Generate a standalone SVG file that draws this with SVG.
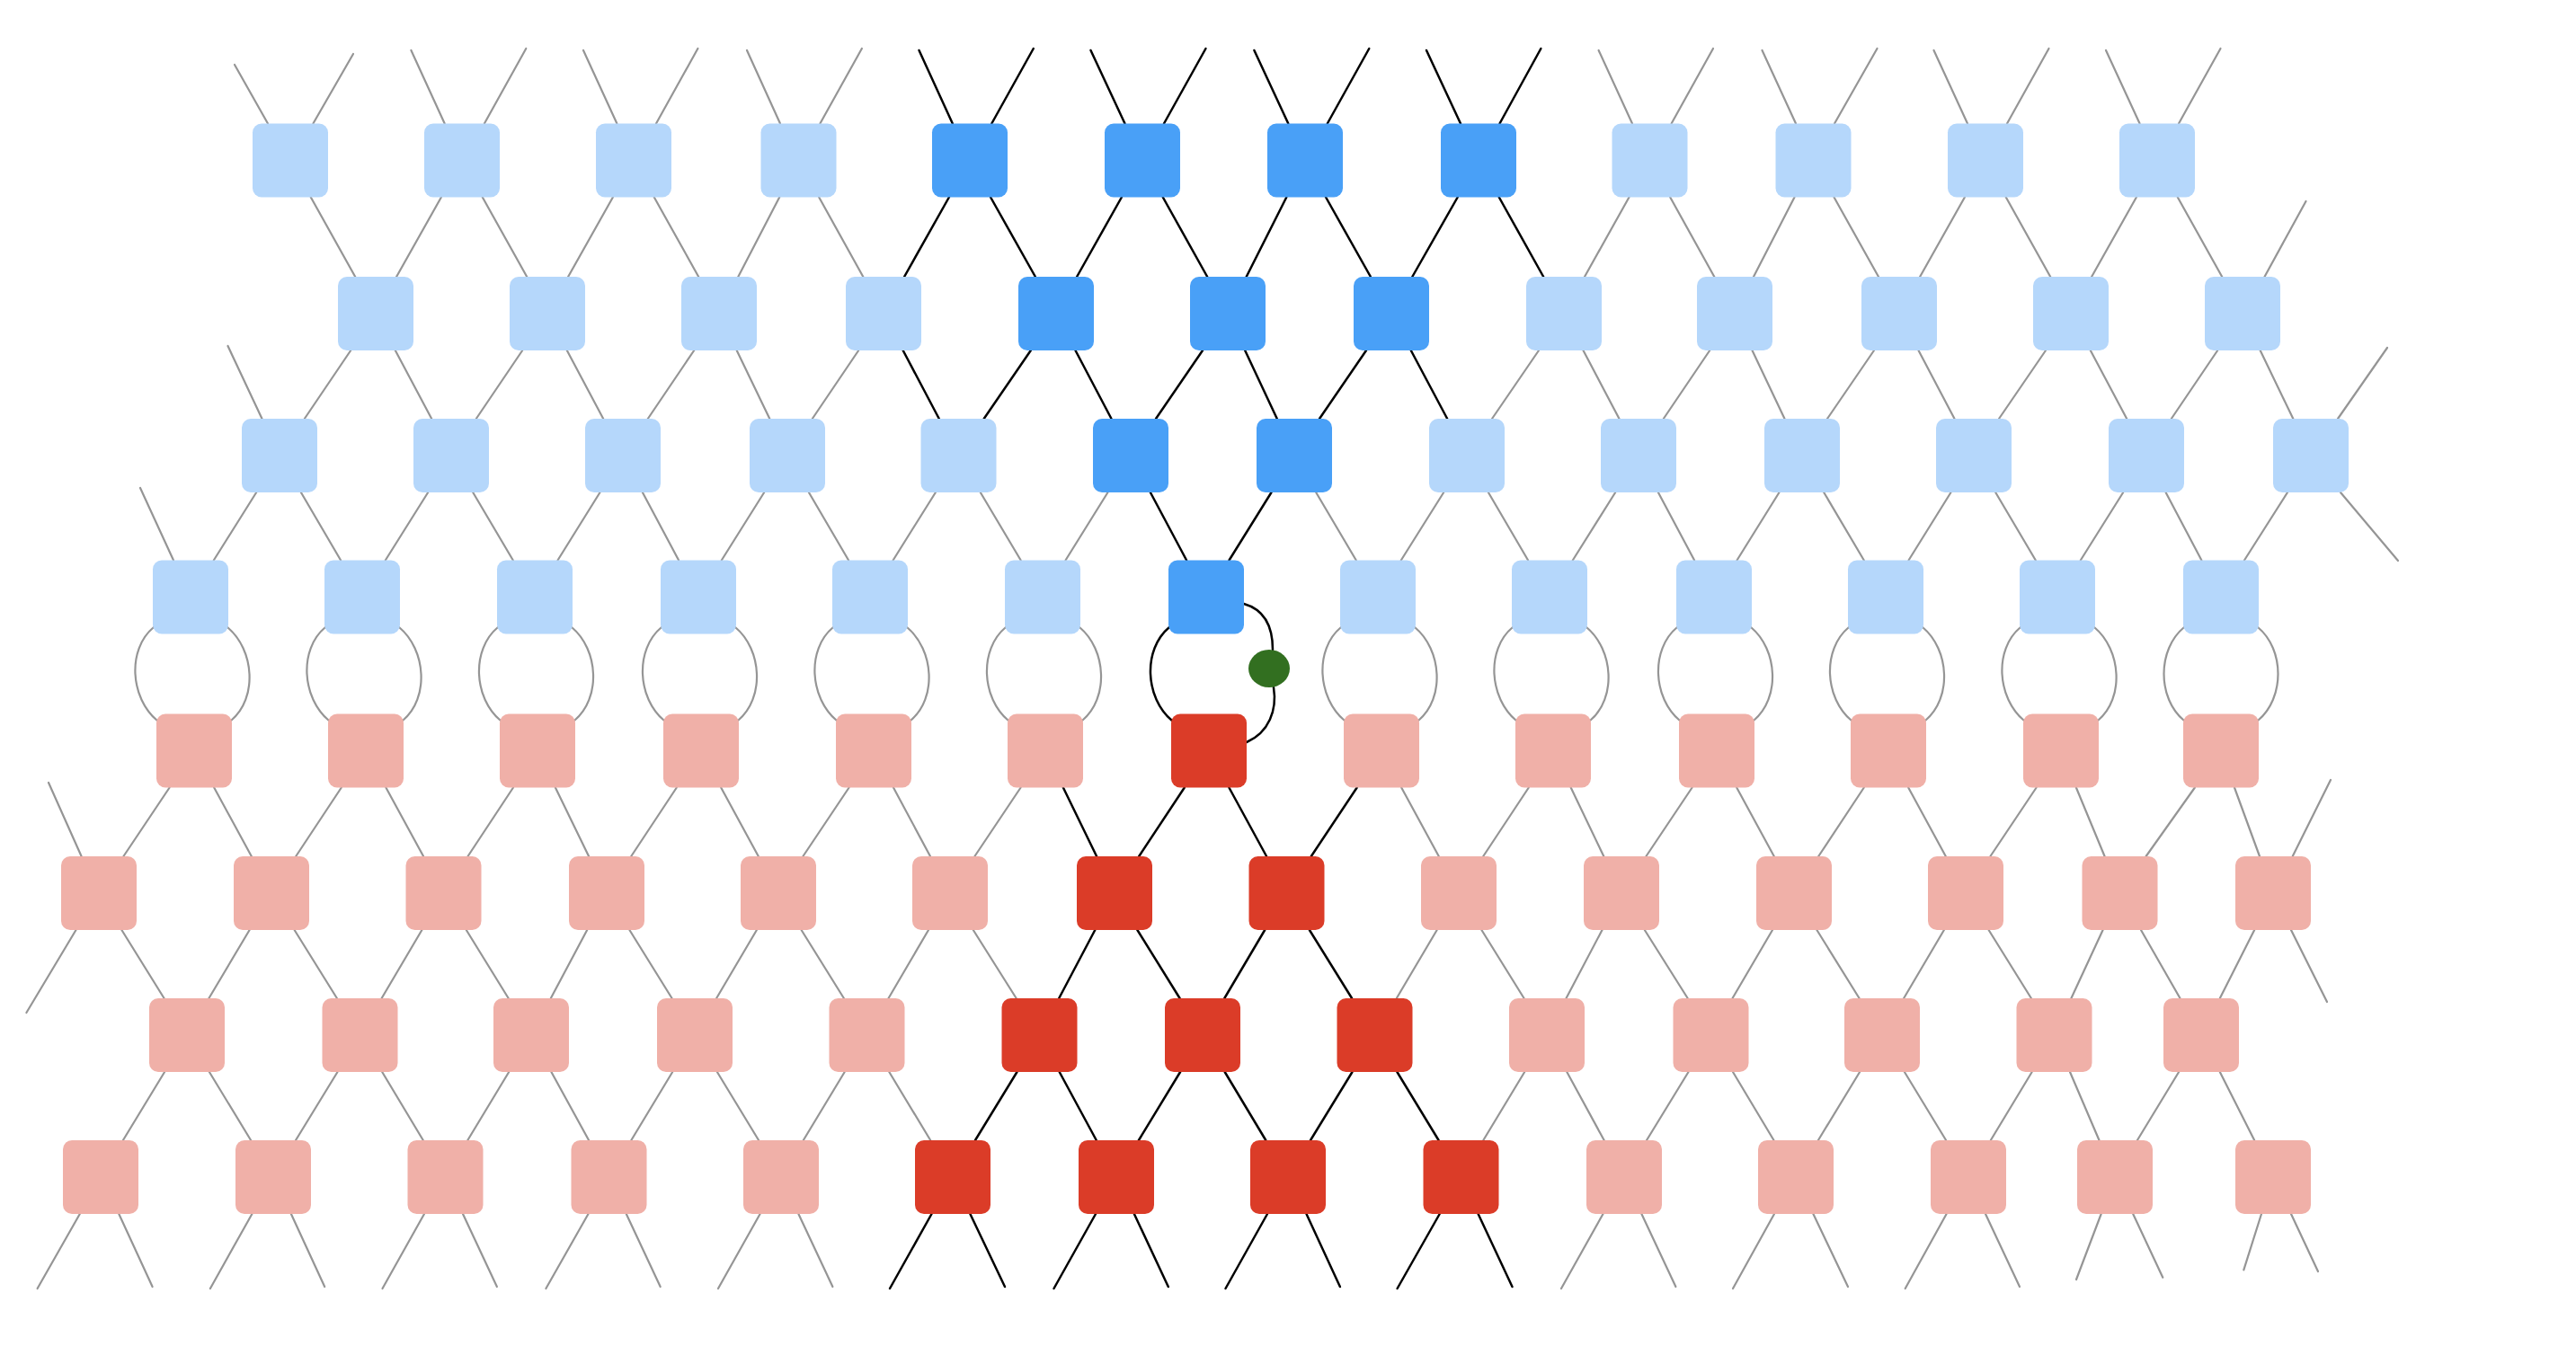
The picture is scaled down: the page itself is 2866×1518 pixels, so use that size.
<svg xmlns="http://www.w3.org/2000/svg" width="2866" height="1518" viewBox="0 0 2866 1518">
<style>
.lb{fill:#b5d7fb}.db{fill:#49a0f7}.lr{fill:#f0b0a8}.dr{fill:#db3c28}.gn{fill:#326f20}
.g{stroke:#959595;stroke-width:2.2;fill:none}.k{stroke:#000;stroke-width:2.5;fill:none}
</style>
<rect width="2866" height="1518" fill="#fff"/>
<g id="connectors" stroke-linecap="round">
<!-- row1 top dangling -->
<g class="g">
<line x1="298" y1="137.5" x2="261" y2="72"/><line x1="348.4" y1="137.5" x2="393" y2="60"/>
<line x1="494.7" y1="137.5" x2="457.4" y2="56"/><line x1="538.9" y1="137.5" x2="585.3" y2="54"/>
<line x1="686.4" y1="137.5" x2="649" y2="56"/><line x1="730" y1="137.5" x2="776.4" y2="54"/>
<line x1="868" y1="137.5" x2="831" y2="56"/><line x1="912.4" y1="137.5" x2="958.9" y2="54"/>
<line x1="1816" y1="137.5" x2="1778.6" y2="56"/><line x1="1859.6" y1="137.5" x2="1906" y2="54"/>
<line x1="1998" y1="137.5" x2="1960.5" y2="56"/><line x1="2041" y1="137.5" x2="2088.5" y2="54"/>
<line x1="2189" y1="137.5" x2="2151.5" y2="56"/><line x1="2233" y1="137.5" x2="2279.5" y2="54"/>
<line x1="2380.6" y1="137.5" x2="2343" y2="56"/><line x1="2424" y1="137.5" x2="2470.5" y2="54"/>
</g>
<g class="k">
<line x1="1059.8" y1="137.5" x2="1022.5" y2="56"/><line x1="1103.3" y1="137.5" x2="1149.8" y2="54"/>
<line x1="1251.5" y1="137.5" x2="1213.5" y2="56"/><line x1="1295" y1="137.5" x2="1341.5" y2="54"/>
<line x1="1433.3" y1="137.5" x2="1395.4" y2="56"/><line x1="1476.8" y1="137.5" x2="1523.3" y2="54"/>
<line x1="1625" y1="137.5" x2="1587" y2="56"/><line x1="1668.5" y1="137.5" x2="1714.4" y2="54"/>
</g>
<!-- row1 to row2 -->
<g class="g">
<line x1="345.8" y1="219.5" x2="395.2" y2="308"/><line x1="536.8" y1="219.5" x2="586.2" y2="308"/>
<line x1="727.8" y1="219.5" x2="777.2" y2="308"/><line x1="911.2" y1="219.5" x2="960.3" y2="308"/>
<line x1="1858.2" y1="219.5" x2="1907.3" y2="308"/><line x1="2040.5" y1="219.5" x2="2090" y2="308"/>
<line x1="2231.8" y1="219.5" x2="2281.2" y2="308"/><line x1="2422.8" y1="219.5" x2="2472.2" y2="308"/>
<line x1="490.9" y1="219.5" x2="441.1" y2="308"/><line x1="681.9" y1="219.5" x2="632.1" y2="308"/>
<line x1="867.2" y1="219.5" x2="821.3" y2="308"/><line x1="1812.5" y1="219.5" x2="1763" y2="308"/>
<line x1="1996.5" y1="219.5" x2="1951" y2="308"/><line x1="2185.9" y1="219.5" x2="2136.1" y2="308"/>
<line x1="2376.9" y1="219.5" x2="2327.1" y2="308"/>
<line x1="2519.5" y1="308" x2="2565.5" y2="224"/>
</g>
<g class="k">
<line x1="1102.1" y1="219.5" x2="1151.9" y2="308"/><line x1="1293.8" y1="219.5" x2="1343.2" y2="308"/>
<line x1="1475.1" y1="219.5" x2="1524.9" y2="308"/><line x1="1667.8" y1="219.5" x2="1717.2" y2="308"/>
<line x1="1055.9" y1="219.5" x2="1006.1" y2="308"/><line x1="1247.9" y1="219.5" x2="1198.1" y2="308"/>
<line x1="1431.3" y1="219.5" x2="1386.7" y2="308"/><line x1="1621.7" y1="219.5" x2="1571.3" y2="308"/>
</g>
<!-- row2 to row3 -->
<g class="g">
<line x1="390.2" y1="390" x2="338.8" y2="466"/><line x1="581.2" y1="390" x2="529.8" y2="466"/>
<line x1="772.2" y1="390" x2="720.8" y2="466"/><line x1="955.2" y1="390" x2="903.8" y2="466"/>
<line x1="1712" y1="390" x2="1660" y2="466"/><line x1="1902.2" y1="390" x2="1850.8" y2="466"/>
<line x1="2085" y1="390" x2="2033" y2="466"/><line x1="2276" y1="390" x2="2224" y2="466"/>
<line x1="2467.2" y1="390" x2="2415.8" y2="466"/>
<line x1="439.8" y1="390" x2="480.2" y2="466"/><line x1="630.8" y1="390" x2="671.2" y2="466"/>
<line x1="819.7" y1="390" x2="856.3" y2="466"/><line x1="1761.5" y1="390" x2="1801.5" y2="466"/>
<line x1="1949.5" y1="390" x2="1985.5" y2="466"/><line x1="2134.5" y1="390" x2="2174.5" y2="466"/>
<line x1="2325.8" y1="390" x2="2366.2" y2="466"/><line x1="2514.7" y1="390" x2="2551.3" y2="466"/>
<line x1="291.5" y1="466" x2="253.5" y2="385"/><line x1="2601" y1="466" x2="2656" y2="387"/>
</g>
<g class="k">
<line x1="1146.8" y1="390" x2="1094.7" y2="466"/><line x1="1338" y1="390" x2="1286" y2="466"/>
<line x1="1520" y1="390" x2="1468" y2="466"/>
<line x1="1004.7" y1="390" x2="1044.8" y2="466"/><line x1="1196.5" y1="390" x2="1236.5" y2="466"/>
<line x1="1385.2" y1="390" x2="1420.8" y2="466"/><line x1="1569.8" y1="390" x2="1610.2" y2="466"/>
</g>
<!-- row3 to row4 -->
<g class="g">
<line x1="285.2" y1="548" x2="237.8" y2="623.5"/><line x1="476.2" y1="548" x2="428.8" y2="623.5"/>
<line x1="667.5" y1="548" x2="620.5" y2="623.5"/><line x1="850.2" y1="548" x2="802.8" y2="623.5"/>
<line x1="1040.9" y1="548" x2="993.6" y2="623.5"/><line x1="1232.5" y1="548" x2="1185.5" y2="623.5"/>
<line x1="1606.2" y1="548" x2="1558.8" y2="623.5"/><line x1="1797.2" y1="548" x2="1749.8" y2="623.5"/>
<line x1="1979.5" y1="548" x2="1932.5" y2="623.5"/><line x1="2170.5" y1="548" x2="2123.5" y2="623.5"/>
<line x1="2362.2" y1="548" x2="2314.8" y2="623.5"/><line x1="2545" y1="548" x2="2497" y2="623.5"/>
<line x1="334.9" y1="548" x2="379.1" y2="623.5"/><line x1="526.2" y1="548" x2="570.8" y2="623.5"/>
<line x1="714.9" y1="548" x2="755.1" y2="623.5"/><line x1="899.9" y1="548" x2="944.1" y2="623.5"/>
<line x1="1090.8" y1="548" x2="1135.7" y2="623.5"/><line x1="1464.2" y1="548" x2="1508.8" y2="623.5"/>
<line x1="1655.9" y1="548" x2="1700.1" y2="623.5"/><line x1="1844.9" y1="548" x2="1885.1" y2="623.5"/>
<line x1="2029.2" y1="548" x2="2073.8" y2="623.5"/><line x1="2220.2" y1="548" x2="2264.8" y2="623.5"/>
<line x1="2409.6" y1="548" x2="2449.4" y2="623.5"/>
<line x1="2604" y1="548" x2="2668" y2="624"/><line x1="193" y1="623.5" x2="156" y2="543"/>
</g>
<g class="k">
<line x1="1414.5" y1="548" x2="1367.5" y2="623.5"/><line x1="1279.9" y1="548" x2="1320.1" y2="623.5"/>
</g>
<!-- row4 to row5 lenses -->
<g class="g">
<path d="M171,698 C141,723 145,777 175,802"/><path d="M253,698 C283,723 287,777 257,802"/>
<path d="M362,698 C332,723 336,777 366,802"/><path d="M444,698 C474,723 478,777 448,802"/>
<path d="M554,698 C524,723 527,777 557,802"/><path d="M636,698 C666,723 669,777 639,802"/>
<path d="M736,698 C706,723 709,777 739,802"/><path d="M818,698 C848,723 851,777 821,802"/>
<path d="M927,698 C897,723 901,777 931,802"/><path d="M1009,698 C1039,723 1043,777 1013,802"/>
<path d="M1119,698 C1089,723 1092,777 1122,802"/><path d="M1201,698 C1231,723 1234,777 1204,802"/>
<path d="M1492,698 C1462,723 1466,777 1496,802"/><path d="M1574,698 C1604,723 1608,777 1578,802"/>
<path d="M1683,698 C1653,723 1657,777 1687,802"/><path d="M1765,698 C1795,723 1799,777 1769,802"/>
<path d="M1866,698 C1836,723 1839,777 1869,802"/><path d="M1948,698 C1978,723 1981,777 1951,802"/>
<path d="M2057,698 C2027,723 2030,777 2060,802"/><path d="M2139,698 C2169,723 2172,777 2142,802"/>
<path d="M2248,698 C2218,723 2222,777 2252,802"/><path d="M2330,698 C2360,723 2364,777 2334,802"/>
<path d="M2430,698 C2400,723 2400,777 2430,802"/><path d="M2512,698 C2542,723 2542,777 2512,802"/>
</g>
<g class="k">
<path d="M1301,698 C1271,723 1274,777 1304,802"/>
<path d="M1384,672 C1405,678 1416,695 1416,723"/>
<path d="M1417,765 C1421,790 1412,815 1387,826"/>
</g>
<!-- row5 to row6 -->
<g class="g">
<line x1="188.6" y1="876.5" x2="137.4" y2="953"/><line x1="379.8" y1="876.5" x2="329.2" y2="953"/>
<line x1="571" y1="876.5" x2="520.5" y2="953"/><line x1="752.8" y1="876.5" x2="702.2" y2="953"/>
<line x1="944.6" y1="876.5" x2="893.4" y2="953"/><line x1="1135.6" y1="876.5" x2="1084.4" y2="953"/>
<line x1="1700.8" y1="876.5" x2="1650.2" y2="953"/><line x1="1882.6" y1="876.5" x2="1831.4" y2="953"/>
<line x1="2073.8" y1="876.5" x2="2023.2" y2="953"/><line x1="2265.6" y1="876.5" x2="2214.4" y2="953"/>
<line x1="2441.9" y1="876.5" x2="2387.6" y2="953"/>
<line x1="238.2" y1="876.5" x2="279.8" y2="953"/><line x1="429.4" y1="876.5" x2="471.1" y2="953"/>
<line x1="617.9" y1="876.5" x2="655.1" y2="953"/><line x1="802.2" y1="876.5" x2="843.8" y2="953"/>
<line x1="994" y1="876.5" x2="1035" y2="953"/><line x1="1559.2" y1="876.5" x2="1600.8" y2="953"/>
<line x1="1747.7" y1="876.5" x2="1784.3" y2="953"/><line x1="1932.2" y1="876.5" x2="1973.8" y2="953"/>
<line x1="2123.2" y1="876.5" x2="2164.8" y2="953"/><line x1="2309.9" y1="876.5" x2="2341.6" y2="953"/>
<line x1="2486" y1="876.5" x2="2514" y2="953"/>
<line x1="90.6" y1="953" x2="54" y2="871"/><line x1="2550.7" y1="953" x2="2593" y2="868"/>
</g>
<g class="k">
<line x1="1317.8" y1="876.5" x2="1267.2" y2="953"/><line x1="1509.7" y1="876.5" x2="1458.8" y2="953"/>
<line x1="1182.9" y1="876.5" x2="1220.1" y2="953"/><line x1="1367.4" y1="876.5" x2="1409.1" y2="953"/>
</g>
<!-- row6 to row7 -->
<g class="g">
<line x1="277.6" y1="1035" x2="232.4" y2="1111"/><line x1="469.4" y1="1035" x2="424.6" y2="1111"/>
<line x1="653.2" y1="1035" x2="612.8" y2="1111"/><line x1="841.9" y1="1035" x2="797.1" y2="1111"/>
<line x1="1033" y1="1035" x2="988.5" y2="1111"/><line x1="1598.7" y1="1035" x2="1553.8" y2="1111"/>
<line x1="1782.5" y1="1035" x2="1742.5" y2="1111"/><line x1="1972" y1="1035" x2="1927.5" y2="1111"/>
<line x1="2162.9" y1="1035" x2="2118.1" y2="1111"/><line x1="2339.6" y1="1035" x2="2304.4" y2="1111"/>
<line x1="2508.2" y1="1035" x2="2469.8" y2="1111"/>
<line x1="135.4" y1="1035" x2="182.6" y2="1111"/><line x1="327.6" y1="1035" x2="374.9" y2="1111"/>
<line x1="518.8" y1="1035" x2="565.7" y2="1111"/><line x1="700.4" y1="1035" x2="747.6" y2="1111"/>
<line x1="891.6" y1="1035" x2="938.9" y2="1111"/><line x1="1082.8" y1="1035" x2="1130.7" y2="1111"/>
<line x1="1648.4" y1="1035" x2="1695.6" y2="1111"/><line x1="1829.8" y1="1035" x2="1877.7" y2="1111"/>
<line x1="2021.4" y1="1035" x2="2068.6" y2="1111"/><line x1="2212.6" y1="1035" x2="2259.9" y2="1111"/>
<line x1="2382" y1="1035" x2="2425.5" y2="1111"/>
<line x1="84.5" y1="1035" x2="29.4" y2="1127"/><line x1="2549" y1="1035" x2="2589" y2="1115"/>
</g>
<g class="k">
<line x1="1218.3" y1="1035" x2="1178.2" y2="1111"/><line x1="1407.2" y1="1035" x2="1362.3" y2="1111"/>
<line x1="1265.4" y1="1035" x2="1312.6" y2="1111"/><line x1="1456.9" y1="1035" x2="1504.1" y2="1111"/>
</g>
<!-- row7 to row8 -->
<g class="g">
<line x1="183.1" y1="1193" x2="136.9" y2="1269"/><line x1="375.5" y1="1193" x2="329" y2="1269"/>
<line x1="566.2" y1="1193" x2="520.3" y2="1269"/><line x1="748.2" y1="1193" x2="702.3" y2="1269"/>
<line x1="939.7" y1="1193" x2="893.8" y2="1269"/><line x1="1696.2" y1="1193" x2="1650.3" y2="1269"/>
<line x1="1878.5" y1="1193" x2="1832" y2="1269"/><line x1="2069.1" y1="1193" x2="2022.9" y2="1269"/>
<line x1="2260.7" y1="1193" x2="2214.8" y2="1269"/><line x1="2424.1" y1="1193" x2="2377.9" y2="1269"/>
<line x1="232.9" y1="1193" x2="279.1" y2="1269"/><line x1="425.2" y1="1193" x2="470.8" y2="1269"/>
<line x1="613.4" y1="1193" x2="655.1" y2="1269"/><line x1="797.9" y1="1193" x2="844.1" y2="1269"/>
<line x1="989.3" y1="1193" x2="1035.2" y2="1269"/><line x1="1743.3" y1="1193" x2="1784.7" y2="1269"/>
<line x1="1928" y1="1193" x2="1973.5" y2="1269"/><line x1="2118.9" y1="1193" x2="2165.1" y2="1269"/>
<line x1="2303" y1="1193" x2="2335.5" y2="1269"/><line x1="2469.8" y1="1193" x2="2508.2" y2="1269"/>
</g>
<g class="k">
<line x1="1131.5" y1="1193" x2="1085" y2="1269"/><line x1="1313.1" y1="1193" x2="1266.9" y2="1269"/>
<line x1="1504.5" y1="1193" x2="1458" y2="1269"/>
<line x1="1178.7" y1="1193" x2="1219.8" y2="1269"/><line x1="1362.7" y1="1193" x2="1408.3" y2="1269"/>
<line x1="1554.4" y1="1193" x2="1600.6" y2="1269"/>
</g>
<!-- row8 bottom dangling -->
<g class="g">
<line x1="88.8" y1="1351" x2="41.6" y2="1434"/><line x1="132.3" y1="1351" x2="169.6" y2="1432"/>
<line x1="280.4" y1="1351" x2="233.9" y2="1434"/><line x1="323.9" y1="1351" x2="361.2" y2="1432"/>
<line x1="472" y1="1351" x2="425.5" y2="1434"/><line x1="515" y1="1351" x2="552.9" y2="1432"/>
<line x1="654.5" y1="1351" x2="607.4" y2="1434"/><line x1="696.8" y1="1351" x2="734.7" y2="1432"/>
<line x1="845.6" y1="1351" x2="799" y2="1434"/><line x1="888.4" y1="1351" x2="926.4" y2="1432"/>
<line x1="1783.5" y1="1351" x2="1737" y2="1434"/><line x1="1826.4" y1="1351" x2="1864.4" y2="1432"/>
<line x1="1974" y1="1351" x2="1928" y2="1434"/><line x1="2017.4" y1="1351" x2="2056" y2="1432"/>
<line x1="2165.6" y1="1351" x2="2119.7" y2="1434"/><line x1="2209" y1="1351" x2="2247" y2="1432"/>
<line x1="2337.7" y1="1351" x2="2310" y2="1424"/><line x1="2373.2" y1="1351" x2="2406.3" y2="1421.7"/>
<line x1="2516" y1="1351" x2="2496.3" y2="1413.3"/><line x1="2549" y1="1351" x2="2579" y2="1415"/>
</g>
<g class="k">
<line x1="1036.5" y1="1351" x2="990" y2="1434"/><line x1="1079.4" y1="1351" x2="1118" y2="1432"/>
<line x1="1219" y1="1351" x2="1172.5" y2="1434"/><line x1="1261.9" y1="1351" x2="1299.8" y2="1432"/>
<line x1="1410" y1="1351" x2="1363.5" y2="1434"/><line x1="1453.5" y1="1351" x2="1490.9" y2="1432"/>
<line x1="1601.7" y1="1351" x2="1554.6" y2="1434"/><line x1="1644.6" y1="1351" x2="1682.5" y2="1432"/>
</g>
</g>
<!-- nodes -->
<g id="nodes">
<g id="r1n1"><rect class="lb" x="281" y="137.5" width="84" height="82" rx="10"/></g>
<g id="r1n2"><rect class="lb" x="472" y="137.5" width="84" height="82" rx="10"/></g>
<g id="r1n3"><rect class="lb" x="663" y="137.5" width="84" height="82" rx="10"/></g>
<g id="r1n4"><rect class="lb" x="846.5" y="137.5" width="84" height="82" rx="10"/></g>
<g id="r1n5"><rect class="db" x="1037" y="137.5" width="84" height="82" rx="10"/></g>
<g id="r1n6"><rect class="db" x="1229" y="137.5" width="84" height="82" rx="10"/></g>
<g id="r1n7"><rect class="db" x="1410" y="137.5" width="84" height="82" rx="10"/></g>
<g id="r1n8"><rect class="db" x="1603" y="137.5" width="84" height="82" rx="10"/></g>
<g id="r1n9"><rect class="lb" x="1793.5" y="137.5" width="84" height="82" rx="10"/></g>
<g id="r1n10"><rect class="lb" x="1975.5" y="137.5" width="84" height="82" rx="10"/></g>
<g id="r1n11"><rect class="lb" x="2167" y="137.5" width="84" height="82" rx="10"/></g>
<g id="r1n12"><rect class="lb" x="2358" y="137.5" width="84" height="82" rx="10"/></g>

<g id="r2n1"><rect class="lb" x="376" y="308" width="84" height="82" rx="10"/></g>
<g id="r2n2"><rect class="lb" x="567" y="308" width="84" height="82" rx="10"/></g>
<g id="r2n3"><rect class="lb" x="758" y="308" width="84" height="82" rx="10"/></g>
<g id="r2n4"><rect class="lb" x="941" y="308" width="84" height="82" rx="10"/></g>
<g id="r2n5"><rect class="db" x="1133" y="308" width="84" height="82" rx="10"/></g>
<g id="r2n6"><rect class="db" x="1324" y="308" width="84" height="82" rx="10"/></g>
<g id="r2n7"><rect class="db" x="1506" y="308" width="84" height="82" rx="10"/></g>
<g id="r2n8"><rect class="lb" x="1698" y="308" width="84" height="82" rx="10"/></g>
<g id="r2n9"><rect class="lb" x="1888" y="308" width="84" height="82" rx="10"/></g>
<g id="r2n10"><rect class="lb" x="2071" y="308" width="84" height="82" rx="10"/></g>
<g id="r2n11"><rect class="lb" x="2262" y="308" width="84" height="82" rx="10"/></g>
<g id="r2n12"><rect class="lb" x="2453" y="308" width="84" height="82" rx="10"/></g>

<g id="r3n1"><rect class="lb" x="269" y="466" width="84" height="82" rx="10"/></g>
<g id="r3n2"><rect class="lb" x="460" y="466" width="84" height="82" rx="10"/></g>
<g id="r3n3"><rect class="lb" x="651" y="466" width="84" height="82" rx="10"/></g>
<g id="r3n4"><rect class="lb" x="834" y="466" width="84" height="82" rx="10"/></g>
<g id="r3n5"><rect class="lb" x="1024.5" y="466" width="84" height="82" rx="10"/></g>
<g id="r3n6"><rect class="db" x="1216" y="466" width="84" height="82" rx="10"/></g>
<g id="r3n7"><rect class="db" x="1398" y="466" width="84" height="82" rx="10"/></g>
<g id="r3n8"><rect class="lb" x="1590" y="466" width="84" height="82" rx="10"/></g>
<g id="r3n9"><rect class="lb" x="1781" y="466" width="84" height="82" rx="10"/></g>
<g id="r3n10"><rect class="lb" x="1963" y="466" width="84" height="82" rx="10"/></g>
<g id="r3n11"><rect class="lb" x="2154" y="466" width="84" height="82" rx="10"/></g>
<g id="r3n12"><rect class="lb" x="2346" y="466" width="84" height="82" rx="10"/></g>
<g id="r3n13"><rect class="lb" x="2529" y="466" width="84" height="82" rx="10"/></g>

<g id="r4n1"><rect class="lb" x="170" y="623.5" width="84" height="82" rx="10"/></g>
<g id="r4n2"><rect class="lb" x="361" y="623.5" width="84" height="82" rx="10"/></g>
<g id="r4n3"><rect class="lb" x="553" y="623.5" width="84" height="82" rx="10"/></g>
<g id="r4n4"><rect class="lb" x="735" y="623.5" width="84" height="82" rx="10"/></g>
<g id="r4n5"><rect class="lb" x="926" y="623.5" width="84" height="82" rx="10"/></g>
<g id="r4n6"><rect class="lb" x="1118" y="623.5" width="84" height="82" rx="10"/></g>
<g id="r4n7"><rect class="db" x="1300" y="623.5" width="84" height="82" rx="10"/></g>
<g id="r4n8"><rect class="lb" x="1491" y="623.5" width="84" height="82" rx="10"/></g>
<g id="r4n9"><rect class="lb" x="1682" y="623.5" width="84" height="82" rx="10"/></g>
<g id="r4n10"><rect class="lb" x="1865" y="623.5" width="84" height="82" rx="10"/></g>
<g id="r4n11"><rect class="lb" x="2056" y="623.5" width="84" height="82" rx="10"/></g>
<g id="r4n12"><rect class="lb" x="2247" y="623.5" width="84" height="82" rx="10"/></g>
<g id="r4n13"><rect class="lb" x="2429" y="623.5" width="84" height="82" rx="10"/></g>

<g id="gate"><ellipse class="gn" cx="1412" cy="744" rx="23" ry="21"/></g>

<g id="r5n1"><rect class="lr" x="174" y="794.5" width="84" height="82" rx="10"/></g>
<g id="r5n2"><rect class="lr" x="365" y="794.5" width="84" height="82" rx="10"/></g>
<g id="r5n3"><rect class="lr" x="556" y="794.5" width="84" height="82" rx="10"/></g>
<g id="r5n4"><rect class="lr" x="738" y="794.5" width="84" height="82" rx="10"/></g>
<g id="r5n5"><rect class="lr" x="930" y="794.5" width="84" height="82" rx="10"/></g>
<g id="r5n6"><rect class="lr" x="1121" y="794.5" width="84" height="82" rx="10"/></g>
<g id="r5n7"><rect class="dr" x="1303" y="794.5" width="84" height="82" rx="10"/></g>
<g id="r5n8"><rect class="lr" x="1495" y="794.5" width="84" height="82" rx="10"/></g>
<g id="r5n9"><rect class="lr" x="1686" y="794.5" width="84" height="82" rx="10"/></g>
<g id="r5n10"><rect class="lr" x="1868" y="794.5" width="84" height="82" rx="10"/></g>
<g id="r5n11"><rect class="lr" x="2059" y="794.5" width="84" height="82" rx="10"/></g>
<g id="r5n12"><rect class="lr" x="2251" y="794.5" width="84" height="82" rx="10"/></g>
<g id="r5n13"><rect class="lr" x="2429" y="794.5" width="84" height="82" rx="10"/></g>

<g id="r6n1"><rect class="lr" x="68" y="953" width="84" height="82" rx="10"/></g>
<g id="r6n2"><rect class="lr" x="260" y="953" width="84" height="82" rx="10"/></g>
<g id="r6n3"><rect class="lr" x="451.5" y="953" width="84" height="82" rx="10"/></g>
<g id="r6n4"><rect class="lr" x="633" y="953" width="84" height="82" rx="10"/></g>
<g id="r6n5"><rect class="lr" x="824" y="953" width="84" height="82" rx="10"/></g>
<g id="r6n6"><rect class="lr" x="1015" y="953" width="84" height="82" rx="10"/></g>
<g id="r6n7"><rect class="dr" x="1198" y="953" width="84" height="82" rx="10"/></g>
<g id="r6n8"><rect class="dr" x="1389.5" y="953" width="84" height="82" rx="10"/></g>
<g id="r6n9"><rect class="lr" x="1581" y="953" width="84" height="82" rx="10"/></g>
<g id="r6n10"><rect class="lr" x="1762" y="953" width="84" height="82" rx="10"/></g>
<g id="r6n11"><rect class="lr" x="1954" y="953" width="84" height="82" rx="10"/></g>
<g id="r6n12"><rect class="lr" x="2145" y="953" width="84" height="82" rx="10"/></g>
<g id="r6n13"><rect class="lr" x="2316.5" y="953" width="84" height="82" rx="10"/></g>
<g id="r6n14"><rect class="lr" x="2487" y="953" width="84" height="82" rx="10"/></g>

<g id="r7n1"><rect class="lr" x="166" y="1111" width="84" height="82" rx="10"/></g>
<g id="r7n2"><rect class="lr" x="358.5" y="1111" width="84" height="82" rx="10"/></g>
<g id="r7n3"><rect class="lr" x="549" y="1111" width="84" height="82" rx="10"/></g>
<g id="r7n4"><rect class="lr" x="731" y="1111" width="84" height="82" rx="10"/></g>
<g id="r7n5"><rect class="lr" x="922.5" y="1111" width="84" height="82" rx="10"/></g>
<g id="r7n6"><rect class="dr" x="1114.5" y="1111" width="84" height="82" rx="10"/></g>
<g id="r7n7"><rect class="dr" x="1296" y="1111" width="84" height="82" rx="10"/></g>
<g id="r7n8"><rect class="dr" x="1487.5" y="1111" width="84" height="82" rx="10"/></g>
<g id="r7n9"><rect class="lr" x="1679" y="1111" width="84" height="82" rx="10"/></g>
<g id="r7n10"><rect class="lr" x="1861.5" y="1111" width="84" height="82" rx="10"/></g>
<g id="r7n11"><rect class="lr" x="2052" y="1111" width="84" height="82" rx="10"/></g>
<g id="r7n12"><rect class="lr" x="2243.5" y="1111" width="84" height="82" rx="10"/></g>
<g id="r7n13"><rect class="lr" x="2407" y="1111" width="84" height="82" rx="10"/></g>

<g id="r8n1"><rect class="lr" x="70" y="1269" width="84" height="82" rx="10"/></g>
<g id="r8n2"><rect class="lr" x="262" y="1269" width="84" height="82" rx="10"/></g>
<g id="r8n3"><rect class="lr" x="453.5" y="1269" width="84" height="82" rx="10"/></g>
<g id="r8n4"><rect class="lr" x="635.5" y="1269" width="84" height="82" rx="10"/></g>
<g id="r8n5"><rect class="lr" x="827" y="1269" width="84" height="82" rx="10"/></g>
<g id="r8n6"><rect class="dr" x="1018" y="1269" width="84" height="82" rx="10"/></g>
<g id="r8n7"><rect class="dr" x="1200" y="1269" width="84" height="82" rx="10"/></g>
<g id="r8n8"><rect class="dr" x="1391" y="1269" width="84" height="82" rx="10"/></g>
<g id="r8n9"><rect class="dr" x="1583.5" y="1269" width="84" height="82" rx="10"/></g>
<g id="r8n10"><rect class="lr" x="1765" y="1269" width="84" height="82" rx="10"/></g>
<g id="r8n11"><rect class="lr" x="1956" y="1269" width="84" height="82" rx="10"/></g>
<g id="r8n12"><rect class="lr" x="2148" y="1269" width="84" height="82" rx="10"/></g>
<g id="r8n13"><rect class="lr" x="2311" y="1269" width="84" height="82" rx="10"/></g>
<g id="r8n14"><rect class="lr" x="2487" y="1269" width="84" height="82" rx="10"/></g>
</g>
</svg>
